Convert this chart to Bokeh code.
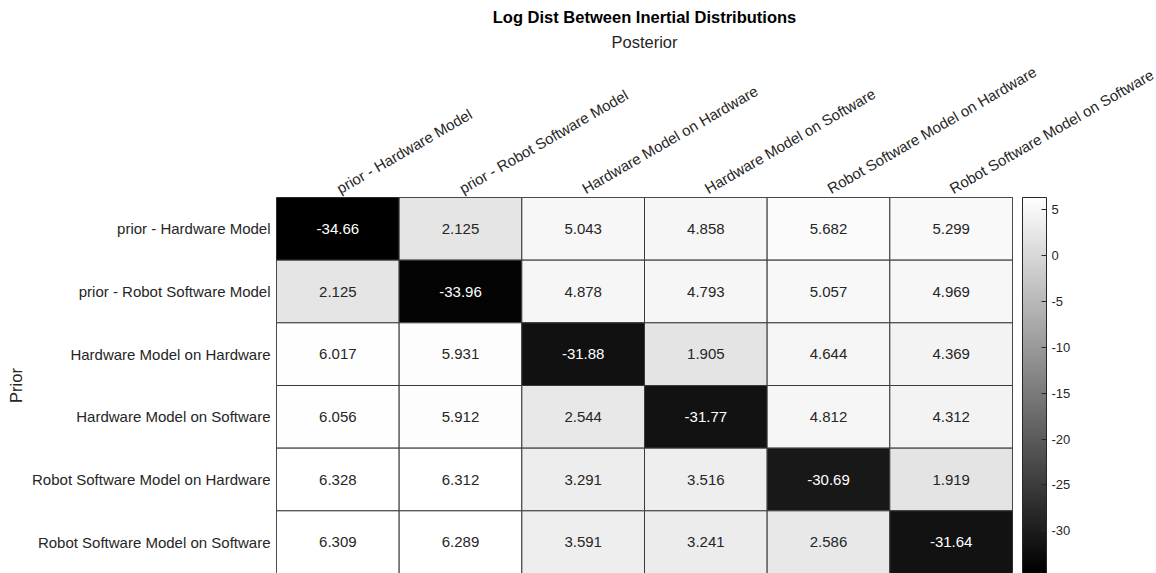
from bokeh.plotting import figure
from bokeh.models import ColumnDataSource, LinearColorMapper, ColorBar, FixedTicker, FactorRange, PrintfTickFormatter
from bokeh.embed import file_html
from bokeh.resources import INLINE
import math

# Model labels (rows = prior, columns = posterior)
models = [
    "prior - Hardware Model",
    "prior - Robot Software Model",
    "Hardware Model on Hardware",
    "Hardware Model on Software",
    "Robot Software Model on Hardware",
    "Robot Software Model on Software",
]

# Log distance values, one list per prior row
row_prior_hw = [-34.66, 2.125, 5.043, 4.858, 5.682, 5.299]
row_prior_sw = [2.125, -33.96, 4.878, 4.793, 5.057, 4.969]
row_hw_on_hw = [6.017, 5.931, -31.88, 1.905, 4.644, 4.369]
row_hw_on_sw = [6.056, 5.912, 2.544, -31.77, 4.812, 4.312]
row_sw_on_hw = [6.328, 6.312, 3.291, 3.516, -30.69, 1.919]
row_sw_on_sw = [6.309, 6.289, 3.591, 3.241, 2.586, -31.64]
rows = [row_prior_hw, row_prior_sw, row_hw_on_hw, row_hw_on_sw, row_sw_on_hw, row_sw_on_sw]

colorbar_ticks = [-30, -25, -20, -15, -10, -5, 0, 5]

FONT = "Liberation Sans"
TEXT_COLOR = "#262626"

vmin = min(min(r) for r in rows)
vmax = max(max(r) for r in rows)
gray = ["#%02x%02x%02x" % (v, v, v) for v in range(256)]
mapper = LinearColorMapper(palette=gray, low=vmin, high=vmax)

xs, ys, vals, labels, tcolors = [], [], [], [], []
for prior, r in zip(models, rows):
    for post, v in zip(models, r):
        xs.append(post)
        ys.append(prior)
        vals.append(v)
        labels.append(f"{v:.4g}")
        frac = (v - vmin) / (vmax - vmin)
        tcolors.append("#ffffff" if frac < 0.5 else TEXT_COLOR)

src = ColumnDataSource(dict(x=xs, y=ys, v=vals, label=labels, tc=tcolors))

p = figure(
    width=1156, height=573,
    x_range=FactorRange(factors=models),
    y_range=FactorRange(factors=list(reversed(models))),
    x_axis_location="above",
    output_backend="svg", toolbar_location=None,
    title="Log Dist Between Inertial Distributions",
    min_border_left=276, min_border_right=144, min_border_top=197, min_border_bottom=0,
)
p.background_fill_color = "white"
p.border_fill_color = "white"
p.outline_line_color = "#262626"
p.grid.grid_line_color = None

p.rect(x="x", y="y", width=1, height=1, source=src,
       fill_color={"field": "v", "transform": mapper},
       line_color="#3a3a3a", line_width=1)
p.text(x="x", y="y", text="label", source=src, text_align="center",
       text_baseline="middle", text_color="tc", text_font_size="15px",
       text_font={"value": FONT})

p.title.text_font = FONT
p.title.text_font_size = "16.5px"
p.title.text_font_style = "bold"
p.title.text_color = "#000000"
p.title.align = "center"
p.title.standoff = 7

for ax in (p.xaxis[0], p.yaxis[0]):
    ax.axis_line_color = None
    ax.major_tick_line_color = None
    ax.minor_tick_line_color = None
    ax.major_tick_out = 0
    ax.major_tick_in = 0
    ax.major_label_text_font = FONT
    ax.major_label_text_font_size = "15px"
    ax.major_label_text_color = TEXT_COLOR
    ax.axis_label_text_font = FONT
    ax.axis_label_text_font_size = "16.5px"
    ax.axis_label_text_font_style = "normal"
    ax.axis_label_text_color = TEXT_COLOR

p.xaxis.axis_label = "Posterior"
p.xaxis.major_label_orientation = math.pi / 6
p.xaxis.major_label_standoff = 8
p.xaxis.axis_label_standoff = 2
p.yaxis.axis_label = "Prior"
p.yaxis.major_label_standoff = 6
p.yaxis.axis_label_standoff = 4

cb = ColorBar(
    color_mapper=mapper, width=24, location=(10, 0), padding=0,
    ticker=FixedTicker(ticks=colorbar_ticks),
    formatter=PrintfTickFormatter(format="%d"),
    major_label_text_font=FONT, major_label_text_font_size="13px",
    major_label_text_color=TEXT_COLOR,
    major_tick_in=5, major_tick_out=0, major_tick_line_color="#262626",
    bar_line_color="#262626", border_line_color=None,
    background_fill_color=None, label_standoff=5,
)
p.add_layout(cb, "right")

open("out.html", "w").write(file_html(p, INLINE))
